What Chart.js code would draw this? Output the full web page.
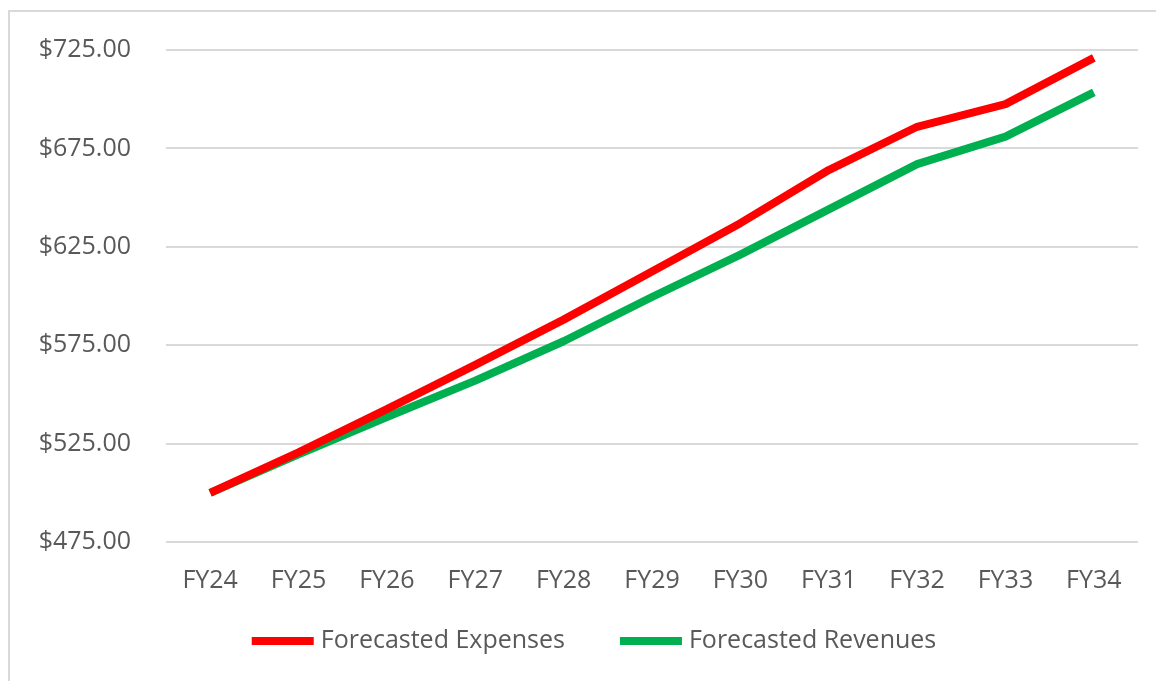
<!DOCTYPE html>
<html>
<head>
<meta charset="utf-8">
<script src="https://cdn.jsdelivr.net/npm/chart.js@4.4.1/dist/chart.umd.min.js"></script>
<style>
  html, body { margin: 0; padding: 0; background: #ffffff; }
  #wrap { position: relative; width: 1156px; height: 681px; overflow: hidden; }
  #frame { position: absolute; left: 8px; top: 10px; width: 1200px; height: 700px;
           border-left: 2px solid #d9d9d9; border-top: 2px solid #d9d9d9; }
  canvas { position: absolute; left: 0; top: 0; }
</style>
</head>
<body>
<div id="wrap">
  <div id="frame"></div>
  <canvas id="c" width="1156" height="681"></canvas>
</div>
<script>
const categories = ['FY24','FY25','FY26','FY27','FY28','FY29','FY30','FY31','FY32','FY33','FY34'];
const expenses = [500, 520.5, 542.5, 565, 588, 612.5, 637, 664, 686, 697.5, 721];
const revenues = [500, 519.5, 538.5, 557, 577, 599.5, 621, 644, 667, 681, 703.5];
const yMin = 475, yMax = 725, yStep = 50;
const seriesNames = ['Forecasted Expenses', 'Forecasted Revenues'];
const seriesColors = ['#ff0000', '#00b050'];

const FONT = "'Open Sans', 'DejaVu Sans', sans-serif";
const TXT = '#595959';

const legendPlugin = {
  id: 'customLegend',
  afterDraw(chart) {
    const ctx = chart.ctx;
    const cfg = { centerX: 594, centerY: 641, boxW: 62, boxH: 8, textGap: 7, itemGap: 55, size: 25 };
    ctx.save();
    ctx.font = cfg.size + 'px ' + FONT;
    const items = chart.data.datasets.map(d => ({ label: d.label, color: d.borderColor, tw: ctx.measureText(d.label).width }));
    let total = 0;
    items.forEach((it, i) => { total += cfg.boxW + cfg.textGap + it.tw + (i < items.length - 1 ? cfg.itemGap : 0); });
    let x = cfg.centerX - total / 2;
    ctx.textBaseline = 'middle';
    ctx.textAlign = 'left';
    items.forEach(it => {
      ctx.fillStyle = it.color;
      ctx.fillRect(x, cfg.centerY - cfg.boxH / 2, cfg.boxW, cfg.boxH);
      x += cfg.boxW + cfg.textGap;
      ctx.fillStyle = TXT;
      ctx.fillText(it.label, x, cfg.centerY);
      x += it.tw + cfg.itemGap;
    });
    ctx.restore();
  }
};

new Chart(document.getElementById('c'), {
  type: 'line',
  data: {
    labels: categories,
    datasets: [
      { label: seriesNames[0], data: expenses, borderColor: seriesColors[0], backgroundColor: seriesColors[0],
        borderWidth: 8, pointRadius: 0, tension: 0, borderJoinStyle: 'round' },
      { label: seriesNames[1], data: revenues, borderColor: seriesColors[1], backgroundColor: seriesColors[1],
        borderWidth: 8, pointRadius: 0, tension: 0, borderJoinStyle: 'round' }
    ]
  },
  plugins: [legendPlugin],
  options: {
    responsive: false,
    animation: false,
    devicePixelRatio: 1,
    layout: { padding: { top: 24, right: 18, bottom: 87, left: 10 } },
    plugins: {
      tooltip: { enabled: false },
      legend: { display: false }
    },
    scales: {
      x: {
        offset: true,
        afterFit: (s) => { s.height = 52; },
        grid: { display: false, drawTicks: false },
        border: { display: false },
        ticks: { color: TXT, font: { family: FONT, size: 25 }, padding: 24, maxRotation: 0 }
      },
      y: {
        min: yMin, max: yMax,
        afterFit: (s) => { s.width = 156; },
        grid: { color: '#d9d9d9', lineWidth: 2, drawTicks: false },
        border: { display: false },
        ticks: {
          stepSize: yStep, color: TXT, padding: 35,
          font: { family: FONT, size: 25 },
          callback: (v) => '$' + Number(v).toFixed(2)
        }
      }
    }
  }
});
</script>
</body>
</html>
